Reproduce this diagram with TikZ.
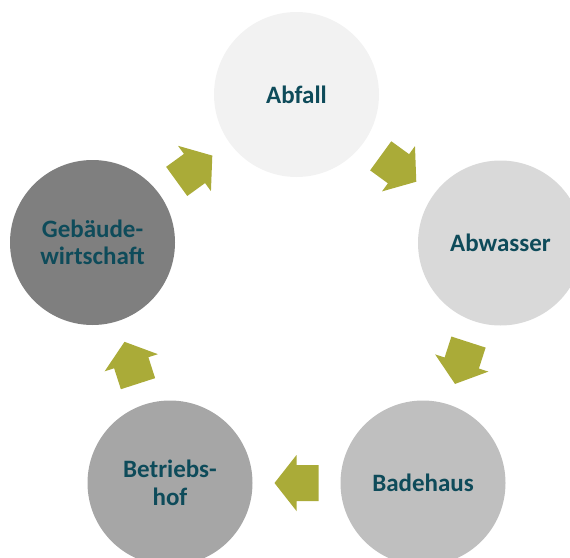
\documentclass[tikz,border=0pt]{standalone}
\usepackage{fontspec}
\setmainfont{Carlito}
\usetikzlibrary{calc}
\definecolor{txtc}{HTML}{0E4B5A}
\definecolor{arrc}{HTML}{AAAB38}
\definecolor{c1}{HTML}{F2F2F2}
\definecolor{c2}{HTML}{D9D9D9}
\definecolor{c3}{HTML}{BFBFBF}
\definecolor{c4}{HTML}{A6A6A6}
\definecolor{c5}{HTML}{7F7F7F}
\begin{document}
\begin{tikzpicture}[x=1pt,y=-1pt,
  stage/.style={circle,draw=none,minimum size=165pt,inner sep=0pt,align=center,
    text=txtc,font=\fontsize{25}{27.5}\selectfont\bfseries},
  cyclearrow/.style={fill=arrc,draw=none}]
\useasboundingbox (0,0) rectangle (570,557);
\clip (0,0) rectangle (570,557);
\node[stage,fill=c1] (abf) at (296.5,94.5) {Abfall};
\node[stage,fill=c2] (abw) at (500.5,243) {Abwasser};
\node[stage,fill=c3] (bad) at (423,483) {Badehaus};
\node[stage,fill=c4] (bet) at (170,483) {Betriebs-\\hof};
\node[stage,fill=c5] (geb) at (92.5,242.5) {Gebäude-\\wirtschaft};
\foreach \a/\b in {abf/abw, abw/bad, bad/bet, bet/geb, geb/abf}{
  \path let \p1=($(\b)-(\a)$), \n1={atan2(\y1,\x1)} in \pgfextra{\xdef\arrang{\n1}};
  \coordinate (mid) at ($(\a)!0.5!(\b)$);
  \begin{scope}[shift={(mid)},rotate=\arrang]
    \fill[cyclearrow] (-22,-18) -- (0,-18) -- (0,-28) -- (22,0) -- (0,28) -- (0,18) -- (-22,18) -- cycle;
  \end{scope}
}
\end{tikzpicture}
\end{document}
